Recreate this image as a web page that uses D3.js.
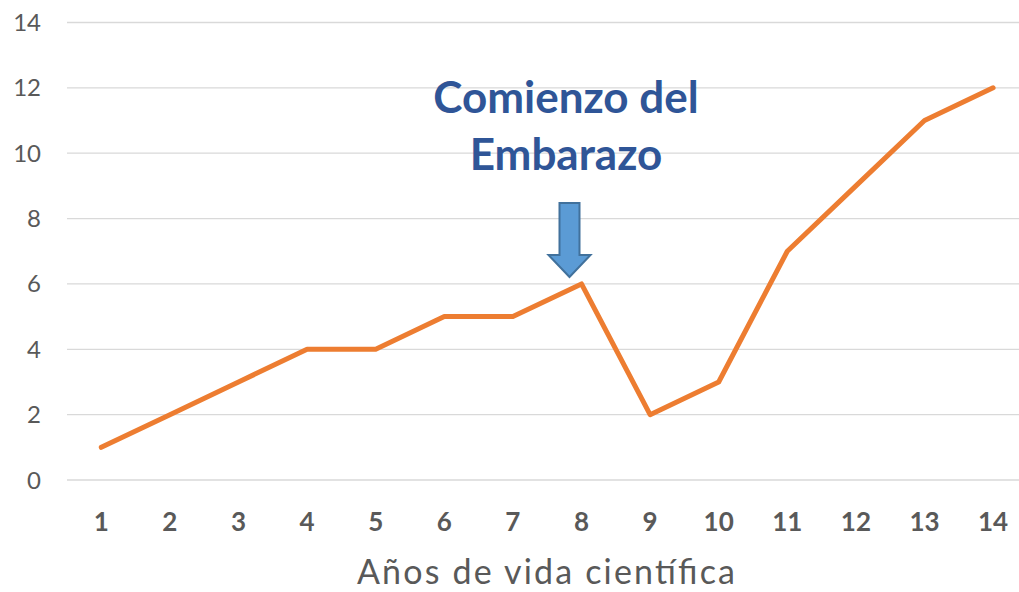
<!DOCTYPE html>
<html lang="es">
<head>
<meta charset="UTF-8">
<script src="https://d3js.org/d3.v7.min.js"></script>
<style>
  body { margin: 0; background: #fff; }
  svg { display: block; font-family: Lato, "Open Sans", sans-serif; }
</style>
</head>
<body>
<svg id="chart" width="1019" height="592"></svg>
<script>
// chart data
const years = [1, 2, 3, 4, 5, 6, 7, 8, 9, 10, 11, 12, 13, 14];
const values = [1, 2, 3, 4, 4, 5, 5, 6, 2, 3, 7, 9, 11, 12];
const yTicks = [0, 2, 4, 6, 8, 10, 12, 14];
const annotationLines = ["Comienzo del", "Embarazo"];
const annotationYear = 8;
const xTitle = "Años de vida científica";

const svg = d3.select("#chart");
const W = 1019;

const x = d3.scaleBand().domain(years).range([67, 67 + 68.6 * 14]);
const y = d3.scaleLinear().domain([0, 14]).range([480, 22.5]);
const cx = d => x(d) + x.bandwidth() / 2;

// gridlines
svg.append("g").selectAll("line").data(yTicks).enter().append("line")
  .attr("x1", 67).attr("x2", W)
  .attr("y1", d => y(d)).attr("y2", d => y(d))
  .attr("stroke", "#d9d9d9").attr("stroke-width", 1.3);

// y labels
svg.append("g").selectAll("text").data(yTicks).enter().append("text")
  .attr("x", 41).attr("y", d => y(d) + 8.5)
  .attr("text-anchor", "end")
  .attr("fill", "#595959").attr("font-size", 24)
  .text(d => d);

// x labels
svg.append("g").selectAll("text").data(years).enter().append("text")
  .attr("x", d => cx(d)).attr("y", 531)
  .attr("text-anchor", "middle")
  .attr("fill", "#595959").attr("font-size", 26).attr("font-weight", "bold")
  .text(d => d);

// axis title
svg.append("text")
  .attr("x", 546).attr("y", 584)
  .attr("text-anchor", "middle")
  .attr("fill", "#595959").attr("font-size", 34)
  .attr("textLength", 378).attr("lengthAdjust", "spacing")
  .text(xTitle);

// line
const line = d3.line().x((d, i) => cx(years[i])).y(d => y(d));
svg.append("path").datum(values)
  .attr("d", line)
  .attr("fill", "none")
  .attr("stroke", "#ed7d31").attr("stroke-width", 5)
  .attr("stroke-linejoin", "round").attr("stroke-linecap", "round");

// annotation
const ax = cx(annotationYear) - 12;
svg.append("g").selectAll("text").data(annotationLines).enter().append("text")
  .attr("x", 566).attr("y", (d, i) => 113 + i * 57)
  .attr("text-anchor", "middle")
  .attr("fill", "#2f5597").attr("font-size", 44).attr("font-weight", "bold")
  .text(d => d);

const arrowTop = 203, neck = 255, tip = 277, sw = 10, hw = 21;
svg.append("path")
  .attr("d", `M${ax - sw},${arrowTop} L${ax + sw},${arrowTop} L${ax + sw},${neck} L${ax + hw},${neck} L${ax},${tip} L${ax - hw},${neck} L${ax - sw},${neck} Z`)
  .attr("fill", "#5b9bd5").attr("stroke", "#41719c").attr("stroke-width", 2);
</script>
</body>
</html>
